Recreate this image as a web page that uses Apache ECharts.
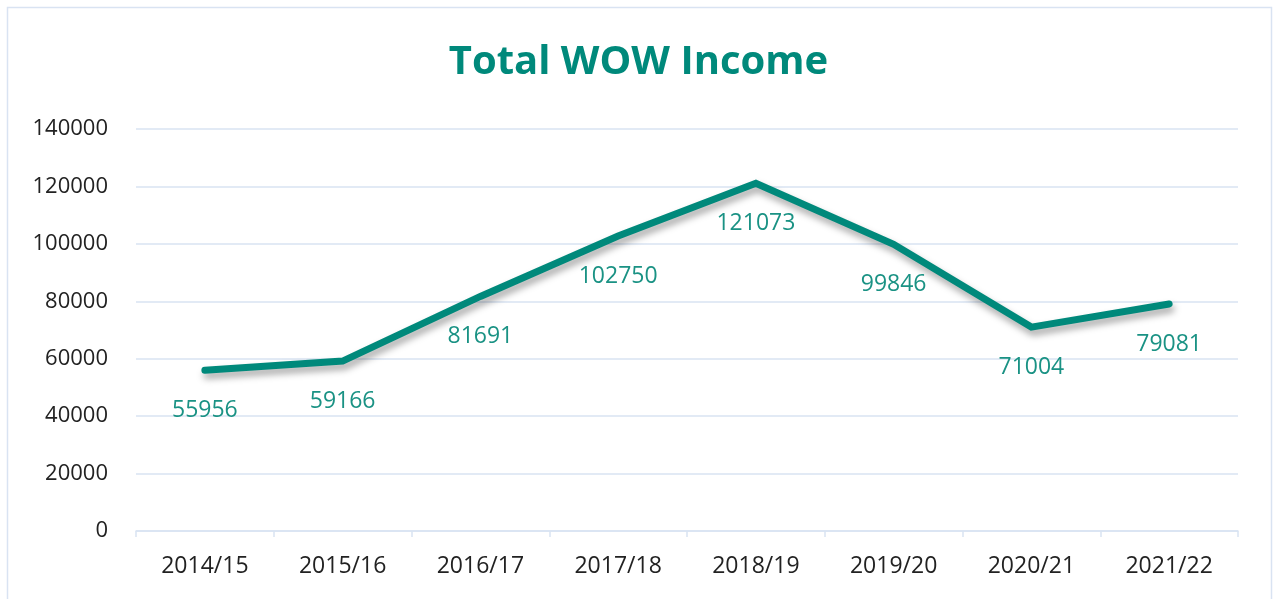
<!DOCTYPE html>
<html>
<head>
<meta charset="utf-8">
<title>Total WOW Income</title>
<script src="https://cdn.jsdelivr.net/npm/echarts@6/dist/echarts.min.js"></script>
<style>
    html, body { margin: 0; padding: 0; background: #fff; }
    #chart { width: 1277px; height: 599px; }
</style>
</head>
<body>
<div id="chart"></div>
<script>
    // data
    var years = ['2014/15', '2015/16', '2016/17', '2017/18', '2018/19', '2019/20', '2020/21', '2021/22'];
    var income = [55956, 59166, 81691, 102750, 121073, 99846, 71004, 79081];

    var teal = '#00897b';
    var gridColor = '#d9e3f2';

    var chart = echarts.init(document.getElementById('chart'));
    var option = {
        backgroundColor: '#fff',
        animation: false,
        title: {
            text: 'Total WOW Income',
            left: 'center',
            top: 38,
            textStyle: {
                fontFamily: 'Open Sans',
                fontSize: 40,
                fontWeight: 'bold',
                color: teal
            }
        },
        graphic: [{
            type: 'rect',
            shape: { x: 7.5, y: 7.5, width: 1264, height: 600 },
            style: { fill: null, stroke: gridColor, lineWidth: 1.5 },
            silent: true
        }],
        grid: { left: 136, right: 39, top: 129, bottom: 68 },
        xAxis: {
            type: 'category',
            data: years,
            boundaryGap: true,
            axisLine: { lineStyle: { color: gridColor, width: 1.5 } },
            axisTick: { show: true, length: 6, lineStyle: { color: gridColor, width: 1.5 } },
            axisLabel: {
                margin: 24,
                fontFamily: 'Open Sans',
                fontSize: 23,
                color: '#222'
            }
        },
        yAxis: {
            type: 'value',
            min: 0,
            max: 140000,
            interval: 20000,
            axisLine: { show: false },
            axisTick: { show: false },
            splitLine: { lineStyle: { color: gridColor, width: 1.5 } },
            axisLabel: {
                margin: 28,
                fontFamily: 'Open Sans',
                fontSize: 22,
                color: '#222',
                formatter: function (v) { return String(v); }
            }
        },
        series: [{
            type: 'line',
            data: income,
            symbol: 'circle',
            symbolSize: 2,
            showSymbol: true,
            itemStyle: { color: 'rgba(0,0,0,0)' },
            lineStyle: {
                color: teal,
                width: 7,
                cap: 'round',
                join: 'miter',
                shadowColor: 'rgba(0,0,0,0.35)',
                shadowBlur: 7,
                shadowOffsetY: 5,
                shadowOffsetX: 2
            },
            label: {
                show: true,
                position: 'bottom',
                distance: 28,
                fontFamily: 'Open Sans',
                fontSize: 23,
                color: '#1a9284'
            }
        }]
    };
    chart.setOption(option);
</script>
</body>
</html>
